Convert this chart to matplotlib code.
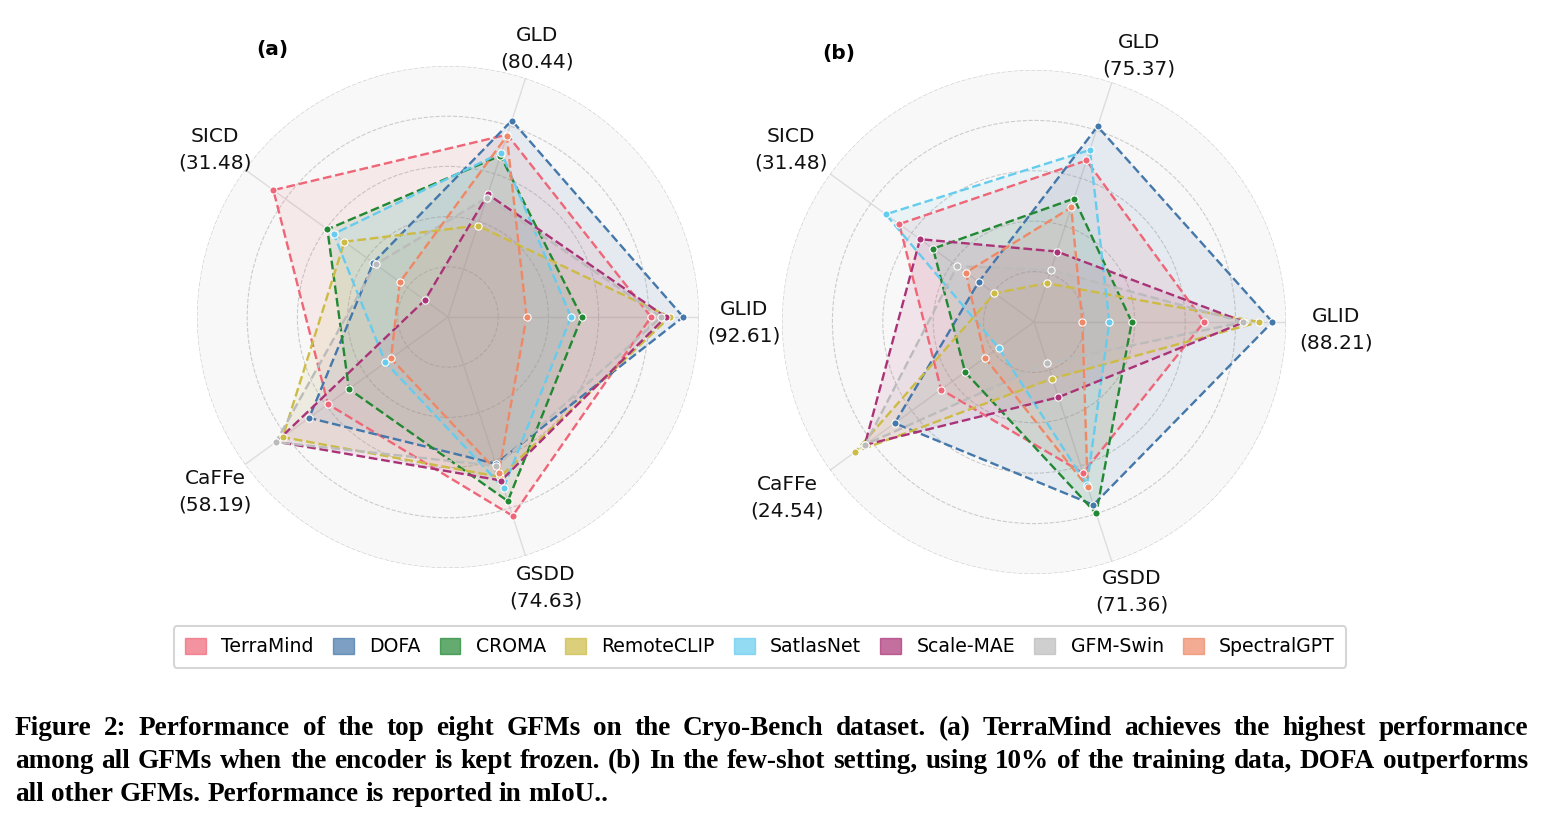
import matplotlib
matplotlib.use('Agg')
import matplotlib.pyplot as plt
import numpy as np
from matplotlib.patches import Patch

plt.rcParams['font.family'] = ['DejaVu Sans']

# ---- data -----------------------------------------------------------------
categories = ['GLID', 'GLD', 'SICD', 'CaFFe', 'GSDD']
best_a = ['92.61', '80.44', '31.48', '58.19', '74.63']
best_b = ['88.21', '75.37', '31.48', '24.54', '71.36']

models = ['TerraMind', 'DOFA', 'CROMA', 'RemoteCLIP', 'SatlasNet',
          'Scale-MAE', 'GFM-Swin', 'SpectralGPT']
colors = ['#EE6677', '#4477AA', '#228833', '#CCBB44', '#66CCEE',
          '#AA3377', '#BBBBBB', '#EE8866']

# normalized scores, order: GLID, GLD, SICD, CaFFe, GSDD
# (a) frozen encoder
terramind_a = [0.809, 0.764, 0.860, 0.591, 0.833]
dofa_a = [0.937, 0.823, 0.368, 0.684, 0.615]
croma_a = [0.533, 0.676, 0.594, 0.488, 0.771]
remoteclip_a = [0.884, 0.383, 0.510, 0.814, 0.670]
satlasnet_a = [0.490, 0.689, 0.563, 0.308, 0.716]
scalemae_a = [0.868, 0.514, 0.114, 0.845, 0.685]
gfmswin_a = [0.849, 0.500, 0.357, 0.848, 0.624]
spectralgpt_a = [0.313, 0.758, 0.237, 0.281, 0.654]

# (b) few-shot, 10% training data
terramind_b = [0.675, 0.674, 0.661, 0.456, 0.630]
dofa_b = [0.946, 0.816, 0.271, 0.683, 0.763]
croma_b = [0.388, 0.515, 0.495, 0.338, 0.799]
remoteclip_b = [0.894, 0.162, 0.194, 0.877, 0.236]
satlasnet_b = [0.299, 0.718, 0.727, 0.174, 0.680]
scalemae_b = [0.835, 0.294, 0.559, 0.830, 0.314]
gfmswin_b = [0.831, 0.217, 0.377, 0.828, 0.172]
spectralgpt_b = [0.192, 0.478, 0.334, 0.241, 0.689]

series_a = [terramind_a, dofa_a, croma_a, remoteclip_a, satlasnet_a,
            scalemae_a, gfmswin_a, spectralgpt_a]
series_b = [terramind_b, dofa_b, croma_b, remoteclip_b, satlasnet_b,
            scalemae_b, gfmswin_b, spectralgpt_b]

caption_lines = [
    "Figure 2: Performance of the top eight GFMs on the Cryo-Bench dataset. (a) TerraMind achieves the highest performance",
    "among all GFMs when the encoder is kept frozen. (b) In the few-shot setting, using 10% of the training data, DOFA outperforms",
    "all other GFMs. Performance is reported in mIoU..",
]

# ---- figure ---------------------------------------------------------------
W, H = 1544, 823
fig = plt.figure(figsize=(W / 100, H / 100), dpi=100)


def px_axes(cx, cy, R):
    return [(cx - R) / W, (H - cy - R) / H, 2 * R / W, 2 * R / H]


def radar(ax, series, best, label_pos):
    n = len(categories)
    angles = np.arange(n) * 2 * np.pi / n
    ang = np.concatenate([angles, angles[:1]])
    ax.set_facecolor('#f8f8f8')
    ax.set_ylim(0, 1)
    ax.set_yticks([0.2, 0.4, 0.6, 0.8, 1.0])
    ax.set_yticklabels([])
    ax.set_xticks(angles)
    ax.set_xticklabels([])
    ax.tick_params(length=0)
    ax.set_axisbelow(True)
    ax.yaxis.grid(True, color='#cccccc', linestyle='--', linewidth=0.8)
    ax.xaxis.grid(True, color='#dddddd', linestyle='-', linewidth=1.0)
    ax.spines['polar'].set_visible(False)
    for vals, c in zip(series, colors):
        v = list(vals) + [vals[0]]
        ax.fill(ang, v, color=c, alpha=0.1, zorder=2, lw=0)
        ax.plot(ang, v, color=c, lw=1.7, ls='--', zorder=3)
        ax.plot(angles, vals, 'o', ms=5.2, color=c, mec='white', mew=0.8,
                zorder=4, clip_on=False)
    for (x, y), cat, b in zip(label_pos, categories, best):
        fig.text(x / W, 1 - y / H, f'{cat}\n({b})', ha='center', va='center',
                 fontsize=14.5, linespacing=1.5, color='#111111')


# label block centres (pixels), order GLID, GLD, SICD, CaFFe, GSDD
labels_a = [(744, 323), (537, 49), (215, 150), (215, 492), (546, 588)]
labels_b = [(1336, 330), (1139, 56), (791, 150), (787, 498), (1132, 592)]

ax_a = fig.add_axes(px_axes(448, 317, 251), projection='polar')
radar(ax_a, series_a, best_a, labels_a)
ax_b = fig.add_axes(px_axes(1034, 322, 252), projection='polar')
radar(ax_b, series_b, best_b, labels_b)

fig.text(272 / W, 1 - 50 / H, '(a)', fontsize=14.5, fontweight='bold',
         ha='center', va='center')
fig.text(839 / W, 1 - 53 / H, '(b)', fontsize=14.5, fontweight='bold',
         ha='center', va='center')

handles = [Patch(facecolor=c, edgecolor=c, alpha=0.7, label=m)
           for m, c in zip(models, colors)]
leg = fig.legend(handles=handles, loc='center',
                 bbox_to_anchor=(760 / W, 1 - 647 / H), ncol=8, fontsize=13.6,
                 frameon=True, fancybox=True, edgecolor='#cccccc',
                 handlelength=1.1, handleheight=0.9, columnspacing=1.0,
                 handletextpad=0.83, borderpad=0.6, borderaxespad=0)
leg.get_frame().set_linewidth(1.5)

# ---- caption (justified) --------------------------------------------------
fig.canvas.draw()
rend = fig.canvas.get_renderer()
cap_kw = dict(family=['Liberation Serif', 'DejaVu Serif'], fontweight='bold',
              color='black')


def word_widths(words, size):
    out = []
    for w in words:
        t = fig.text(0, 0, w, fontsize=size, **cap_kw)
        out.append(t.get_window_extent(rend).width)
        t.remove()
    return out


def space_width(size):
    t1 = fig.text(0, 0, 'x x', fontsize=size, **cap_kw)
    t2 = fig.text(0, 0, 'xx', fontsize=size, **cap_kw)
    w = t1.get_window_extent(rend).width - t2.get_window_extent(rend).width
    t1.remove(); t2.remove()
    return w


x0, x1 = 15, 1528
base = 10.0
sw = space_width(base)
sizes = []
for line in caption_lines[:2]:
    ws = line.split(' ')
    nat = sum(word_widths(ws, base)) + sw * (len(ws) - 1)
    sizes.append(base * (x1 - x0) / nat * 0.99)
size = min(sizes)
sw = space_width(size)
baselines = [735, 768, 801]
for i, line in enumerate(caption_lines):
    ws = line.split(' ')
    wd = word_widths(ws, size)
    if i < 2:
        gap = ((x1 - x0) - sum(wd)) / (len(ws) - 1)
    else:
        gap = sw
    x = x0
    for w, wdt in zip(ws, wd):
        fig.text(x / W, 1 - baselines[i] / H, w, fontsize=size, va='baseline',
                 ha='left', **cap_kw)
        x += wdt + gap

fig.savefig('out.png', dpi=100)
